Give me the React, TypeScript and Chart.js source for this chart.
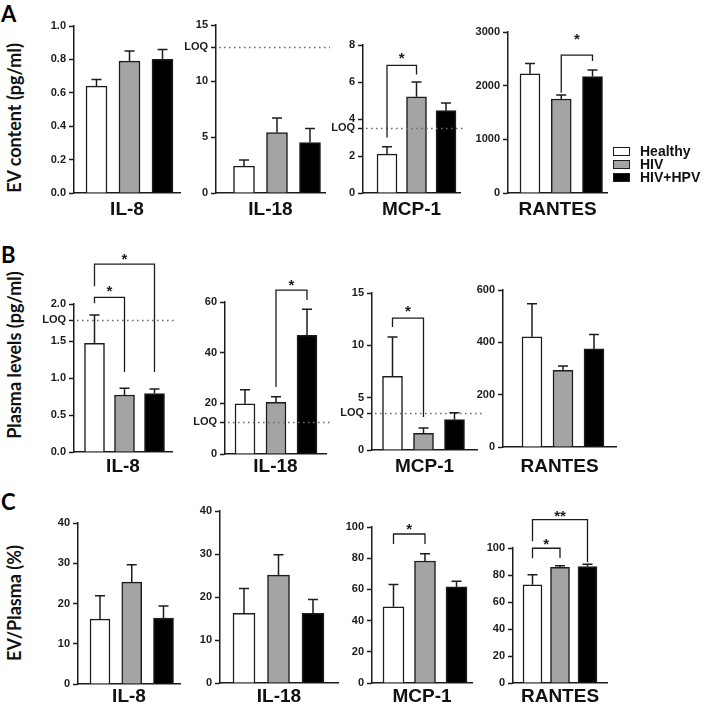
import React, { useEffect, useRef } from 'react';
import { Chart, registerables } from 'chart.js';

Chart.register(...registerables);

// ---- groups ----
const GROUPS = ['Healthy', 'HIV', 'HIV+HPV'];
const GROUP_FILL = ['#ffffff', '#a4a4a4', '#000000'];

// ---- A: EV content (pg/ml) : mean and SEM per group ----
const EV_IL8_MEAN = [0.64, 0.79, 0.8];
const EV_IL8_SEM = [0.04, 0.06, 0.06];
const EV_IL18_MEAN = [2.4, 5.4, 4.5];
const EV_IL18_SEM = [0.55, 1.3, 1.25];
const EV_MCP1_MEAN = [2.1, 5.2, 4.45];
const EV_MCP1_SEM = [0.4, 0.8, 0.42];
const EV_RANTES_MEAN = [2220, 1752, 2170];
const EV_RANTES_SEM = [195, 72, 120];

// ---- B: Plasma levels (pg/ml) ----
const PL_IL8_MEAN = [1.47, 0.77, 0.79];
const PL_IL8_SEM = [0.38, 0.09, 0.06];
const PL_IL18_MEAN = [19.8, 20.4, 46.8];
const PL_IL18_SEM = [5.6, 2.2, 10.3];
const PL_MCP1_MEAN = [7.05, 1.6, 2.9];
const PL_MCP1_SEM = [3.75, 0.5, 0.65];
const PL_RANTES_MEAN = [421, 293, 375];
const PL_RANTES_SEM = [126, 17, 55];

// ---- C: EV/Plasma (%) ----
const RATIO_IL8_MEAN = [16.1, 25.3, 16.4];
const RATIO_IL8_SEM = [5.8, 4.3, 3.0];
const RATIO_IL18_MEAN = [16.2, 25.1, 16.2];
const RATIO_IL18_SEM = [5.8, 4.7, 3.2];
const RATIO_MCP1_MEAN = [48.9, 78.2, 61.6];
const RATIO_MCP1_SEM = [14.3, 4.6, 3.6];
const RATIO_RANTES_MEAN = [72.8, 85.6, 86.3];
const RATIO_RANTES_SEM = [7.4, 1.2, 1.6];

// ---- y tick values ----
const EV_IL8_TICKS = [0, 0.2, 0.4, 0.6, 0.8, 1.0];
const EV_IL18_TICKS = [0, 5, 10, 15];
const EV_MCP1_TICKS = [0, 2, 4, 6, 8];
const EV_RANTES_TICKS = [0, 1000, 2000, 3000];
const PL_IL8_TICKS = [0, 0.5, 1.0, 1.5, 2.0];
const PL_IL18_TICKS = [0, 20, 40, 60];
const PL_MCP1_TICKS = [0, 5, 10, 15];
const PL_RANTES_TICKS = [0, 200, 400, 600];
const RATIO_IL8_TICKS = [0, 10, 20, 30, 40];
const RATIO_IL18_TICKS = [0, 10, 20, 30, 40];
const RATIO_MCP1_TICKS = [0, 20, 40, 60, 80, 100];
const RATIO_RANTES_TICKS = [0, 20, 40, 60, 80, 100];

// ---- limits of quantification ----
const EV_IL18_LOQ = 13;
const EV_MCP1_LOQ = 3.5;
const PL_IL8_LOQ = 1.78;
const PL_IL18_LOQ = 12.5;
const PL_MCP1_LOQ = 3.5;

// ---- significance brackets (values in axis units) ----
type Sig = { from: number; to: number; top: number; fromEnd: number; toEnd: number; text: string; textAt: number };
const EV_MCP1_SIG: Sig[] = [{ from: 0, to: 1, top: 6.9, fromEnd: 3.0, toEnd: 6.4, text: '*', textAt: 7.5 }];
const EV_RANTES_SIG: Sig[] = [{ from: 1, to: 2, top: 2570, fromEnd: 1870, toEnd: 2460, text: '*', textAt: 2940 }];
const PL_IL8_SIG: Sig[] = [
  { from: 0, to: 1, top: 2.09, fromEnd: 2.01, toEnd: 1.08, text: '*', textAt: 2.23 },
  { from: 0, to: 2, top: 2.54, fromEnd: 2.24, toEnd: 1.08, text: '*', textAt: 2.66 },
];
const PL_IL18_SIG: Sig[] = [{ from: 1, to: 2, top: 64.7, fromEnd: 26.4, toEnd: 60.8, text: '*', textAt: 68.3 }];
const PL_MCP1_SIG: Sig[] = [{ from: 0, to: 1, top: 12.6, fromEnd: 11.75, toEnd: 3.15, text: '*', textAt: 13.7 }];
const RATIO_MCP1_SIG: Sig[] = [{ from: 0, to: 1, top: 95.5, fromEnd: 89.1, toEnd: 89.1, text: '*', textAt: 101.3 }];
const RATIO_RANTES_SIG: Sig[] = [
  { from: 0, to: 1, top: 99.8, fromEnd: 92.4, toEnd: 92.6, text: '*', textAt: 106 },
  { from: 0, to: 2, top: 121, fromEnd: 105, toEnd: 89.5, text: '**', textAt: 127 },
];

// ---- styling ----
const FONT = '"Liberation Sans", Arial, sans-serif';
const TITLE_FONT = 'Lato, "Open Sans", sans-serif';
const INK = '#1c1c1c';

type Box = { axisX: number; xEnd: number; top: number; zero: number; c1: number; c3: number; bw: number; labelY: number };
type PanelSpec = {
  name: string;
  mean: number[];
  sem: number[];
  ticks: number[];
  decimals: number;
  loq: number | null;
  sig: Sig[];
  box: Box;
};

// panel frame positions on the page
const PANELS: PanelSpec[] = [
  { name: 'IL-8', mean: EV_IL8_MEAN, sem: EV_IL8_SEM, ticks: EV_IL8_TICKS, decimals: 1, loq: null, sig: [],
    box: { axisX: 74, xEnd: 180, top: 26, zero: 193, c1: 96.5, c3: 162.5, bw: 21, labelY: 210 } },
  { name: 'IL-18', mean: EV_IL18_MEAN, sem: EV_IL18_SEM, ticks: EV_IL18_TICKS, decimals: 0, loq: EV_IL18_LOQ, sig: [],
    box: { axisX: 216, xEnd: 325, top: 25, zero: 193, c1: 244, c3: 310, bw: 21, labelY: 210 } },
  { name: 'MCP-1', mean: EV_MCP1_MEAN, sem: EV_MCP1_SEM, ticks: EV_MCP1_TICKS, decimals: 0, loq: EV_MCP1_LOQ, sig: EV_MCP1_SIG,
    box: { axisX: 363, xEnd: 460, top: 45, zero: 193, c1: 387, c3: 446, bw: 20, labelY: 210 } },
  { name: 'RANTES', mean: EV_RANTES_MEAN, sem: EV_RANTES_SEM, ticks: EV_RANTES_TICKS, decimals: 0, loq: null, sig: EV_RANTES_SIG,
    box: { axisX: 508, xEnd: 607, top: 32, zero: 193, c1: 530, c3: 592.5, bw: 20, labelY: 210 } },

  { name: 'IL-8', mean: PL_IL8_MEAN, sem: PL_IL8_SEM, ticks: PL_IL8_TICKS, decimals: 1, loq: PL_IL8_LOQ, sig: PL_IL8_SIG,
    box: { axisX: 74, xEnd: 172, top: 304, zero: 452, c1: 94.5, c3: 154.5, bw: 20, labelY: 467 } },
  { name: 'IL-18', mean: PL_IL18_MEAN, sem: PL_IL18_SEM, ticks: PL_IL18_TICKS, decimals: 0, loq: PL_IL18_LOQ, sig: PL_IL18_SIG,
    box: { axisX: 225, xEnd: 326, top: 302, zero: 454, c1: 245, c3: 307, bw: 20, labelY: 467 } },
  { name: 'MCP-1', mean: PL_MCP1_MEAN, sem: PL_MCP1_SEM, ticks: PL_MCP1_TICKS, decimals: 0, loq: PL_MCP1_LOQ, sig: PL_MCP1_SIG,
    box: { axisX: 372, xEnd: 477, top: 293, zero: 450, c1: 392.5, c3: 454.5, bw: 20, labelY: 467 } },
  { name: 'RANTES', mean: PL_RANTES_MEAN, sem: PL_RANTES_SEM, ticks: PL_RANTES_TICKS, decimals: 0, loq: null, sig: [],
    box: { axisX: 503, xEnd: 616, top: 290, zero: 447, c1: 532, c3: 594, bw: 20, labelY: 467 } },

  { name: 'IL-8', mean: RATIO_IL8_MEAN, sem: RATIO_IL8_SEM, ticks: RATIO_IL8_TICKS, decimals: 0, loq: null, sig: [],
    box: { axisX: 78, xEnd: 180, top: 523, zero: 684, c1: 100, c3: 163.5, bw: 20, labelY: 697 } },
  { name: 'IL-18', mean: RATIO_IL18_MEAN, sem: RATIO_IL18_SEM, ticks: RATIO_IL18_TICKS, decimals: 0, loq: null, sig: [],
    box: { axisX: 220, xEnd: 338, top: 511, zero: 683, c1: 244, c3: 313, bw: 22, labelY: 697 } },
  { name: 'MCP-1', mean: RATIO_MCP1_MEAN, sem: RATIO_MCP1_SEM, ticks: RATIO_MCP1_TICKS, decimals: 0, loq: null, sig: RATIO_MCP1_SIG,
    box: { axisX: 372, xEnd: 472, top: 527, zero: 683, c1: 393.5, c3: 456.5, bw: 21, labelY: 697 } },
  { name: 'RANTES', mean: RATIO_RANTES_MEAN, sem: RATIO_RANTES_SEM, ticks: RATIO_RANTES_TICKS, decimals: 0, loq: null, sig: RATIO_RANTES_SIG,
    box: { axisX: 513, xEnd: 607, top: 548, zero: 683, c1: 532.5, c3: 587.5, bw: 19, labelY: 697 } },
];

const Y_LABEL_W = 48;
const PAD_RIGHT = 14;

function frame(b: Box) {
  const left = b.axisX - Y_LABEL_W;
  const top = Math.max(0, b.top - 62);
  const right = b.xEnd + PAD_RIGHT;
  const bottom = b.labelY + 14;
  return { left, top, w: right - left, h: bottom - top, padTop: b.top - top, xh: bottom - b.zero };
}

function Panel({ spec }: { spec: PanelSpec }) {
  const ref = useRef<HTMLCanvasElement | null>(null);
  const f = frame(spec.box);

  useEffect(() => {
    const b = spec.box;
    const sp = (b.c3 - b.c1) / 2;
    const xMin = 1 - (b.c1 - b.axisX) / sp;
    const xMax = 3 + (b.xEnd - b.c3) / sp;
    const tickVals = [...spec.ticks, ...(spec.loq != null ? [spec.loq] : [])].sort((a, c) => a - c);

    const overlay = {
      id: 'overlay',
      afterDatasetsDraw(chart: any) {
        const { ctx, scales, chartArea } = chart;
        const x = scales.x;
        const y = scales.y;
        ctx.save();

        // limit of quantification
        if (spec.loq != null) {
          const py = Math.round(y.getPixelForValue(spec.loq)) + 0.5;
          ctx.strokeStyle = '#6e6e6e';
          ctx.lineWidth = 1.6;
          ctx.setLineDash([1.6, 3.4]);
          ctx.beginPath();
          ctx.moveTo(chartArea.left + 3, py);
          ctx.lineTo(chartArea.right + 5, py);
          ctx.stroke();
          ctx.setLineDash([]);
        }

        // error bars (mean + SEM)
        ctx.strokeStyle = INK;
        ctx.lineWidth = 1.5;
        spec.mean.forEach((m, i) => {
          const px = x.getPixelForValue(i + 1);
          const y0 = y.getPixelForValue(m);
          const y1 = y.getPixelForValue(m + spec.sem[i]);
          ctx.beginPath();
          ctx.moveTo(px, y0);
          ctx.lineTo(px, y1);
          ctx.moveTo(px - 5, y1);
          ctx.lineTo(px + 5, y1);
          ctx.stroke();
        });

        // significance brackets
        ctx.lineWidth = 1.3;
        ctx.fillStyle = INK;
        ctx.font = `bold 15px ${FONT}`;
        ctx.textAlign = 'center';
        ctx.textBaseline = 'alphabetic';
        spec.sig.forEach((s) => {
          const xa = x.getPixelForValue(s.from + 1);
          const xb = x.getPixelForValue(s.to + 1);
          const yt = y.getPixelForValue(s.top);
          ctx.beginPath();
          ctx.moveTo(xa, y.getPixelForValue(s.fromEnd));
          ctx.lineTo(xa, yt);
          ctx.lineTo(xb, yt);
          ctx.lineTo(xb, y.getPixelForValue(s.toEnd));
          ctx.stroke();
          ctx.fillText(s.text, (xa + xb) / 2, y.getPixelForValue(s.textAt) + 9);
        });
        ctx.restore();
      },
    };

    const chart = new Chart(ref.current as HTMLCanvasElement, {
      type: 'bar',
      data: {
        datasets: [
          {
            label: spec.name,
            data: spec.mean.map((v, i) => ({ x: i + 1, y: v })),
            backgroundColor: GROUP_FILL,
            borderColor: INK,
            borderWidth: 1.5,
            barThickness: b.bw,
          } as any,
        ],
      },
      options: {
        animation: false,
        responsive: false,
        maintainAspectRatio: false,
        events: [],
        layout: { padding: { top: f.padTop, right: PAD_RIGHT, left: 0, bottom: 0 } },
        plugins: { legend: { display: false }, tooltip: { enabled: false } },
        scales: {
          x: {
            type: 'linear',
            offset: false,
            bounds: 'data',
            min: xMin,
            max: xMax,
            grid: { display: false, offset: false },
            border: { display: true, color: INK, width: 1.5 },
            ticks: { display: false },
            title: {
              display: true,
              text: spec.name,
              color: '#111',
              font: { family: FONT, size: 19, weight: 'bold', lineHeight: 1 },
              padding: { top: 0, bottom: 4.5 },
            },
            afterFit: (s: any) => {
              s.height = f.xh;
            },
          },
          y: {
            type: 'linear',
            min: 0,
            max: spec.ticks[spec.ticks.length - 1],
            afterBuildTicks: (s: any) => {
              s.ticks = tickVals.map((v) => ({ value: v }));
            },
            ticks: {
              autoSkip: false,
              color: INK,
              padding: 3,
              font: { family: FONT, size: 11, weight: 'bold' },
              callback: (v: any) => (spec.loq != null && v === spec.loq ? 'LOQ' : Number(v).toFixed(spec.decimals)),
            },
            grid: {
              display: true,
              drawOnChartArea: false,
              drawTicks: true,
              tickLength: 5,
              tickWidth: 1.5,
              tickColor: INK,
              color: INK,
            },
            border: { display: true, color: INK, width: 1.5 },
            afterFit: (s: any) => {
              s.width = Y_LABEL_W;
            },
          },
        },
      } as any,
      plugins: [overlay],
    });
    return () => chart.destroy();
  }, []);

  return (
    <canvas
      ref={ref}
      width={f.w}
      height={f.h}
      style={{ position: 'absolute', left: f.left, top: f.top, width: f.w, height: f.h }}
    />
  );
}

const ROWS = [
  { letter: 'A', title: 'EV content (pg/ml)', letterY: 14, titleY: 118 },
  { letter: 'B', title: 'Plasma levels (pg/ml)', letterY: 255, titleY: 355 },
  { letter: 'C', title: 'EV/Plasma (%)', letterY: 502, titleY: 603 },
];

function Legend() {
  return (
    <div style={{ position: 'absolute', left: 613, top: 144.5 }}>
      {GROUPS.map((g, i) => (
        <div key={g} style={{ display: 'flex', alignItems: 'center', height: 13 }}>
          <div
            style={{
              width: 15,
              height: 7,
              border: `1.5px solid ${INK}`,
              background: GROUP_FILL[i],
              marginRight: 10,
            }}
          />
          <span style={{ font: `bold 14px ${FONT}`, color: '#111', lineHeight: '13px' }}>{g}</span>
        </div>
      ))}
    </div>
  );
}

export default function App() {
  return (
    <div style={{ position: 'absolute', left: 0, top: 0, width: 708, height: 711, background: '#fff', overflow: 'hidden' }}>
      {ROWS.map((r) => (
        <React.Fragment key={r.letter}>
          <div
            style={{
              position: 'absolute',
              left: 1,
              top: r.letterY - 13,
              font: `bold 22px ${TITLE_FONT}`,
              lineHeight: '26px',
              color: '#000',
            }}
          >
            {r.letter}
          </div>
          <div
            style={{
              position: 'absolute',
              left: 14 - 120,
              top: r.titleY - 11,
              width: 240,
              height: 22,
              lineHeight: '22px',
              textAlign: 'center',
              whiteSpace: 'nowrap',
              transform: 'rotate(-90deg)',
              font: `bold 18px ${TITLE_FONT}`,
              color: '#111',
            }}
          >
            {r.title}
          </div>
        </React.Fragment>
      ))}
      {PANELS.map((p, i) => (
        <Panel key={i} spec={p} />
      ))}
      <Legend />
    </div>
  );
}
